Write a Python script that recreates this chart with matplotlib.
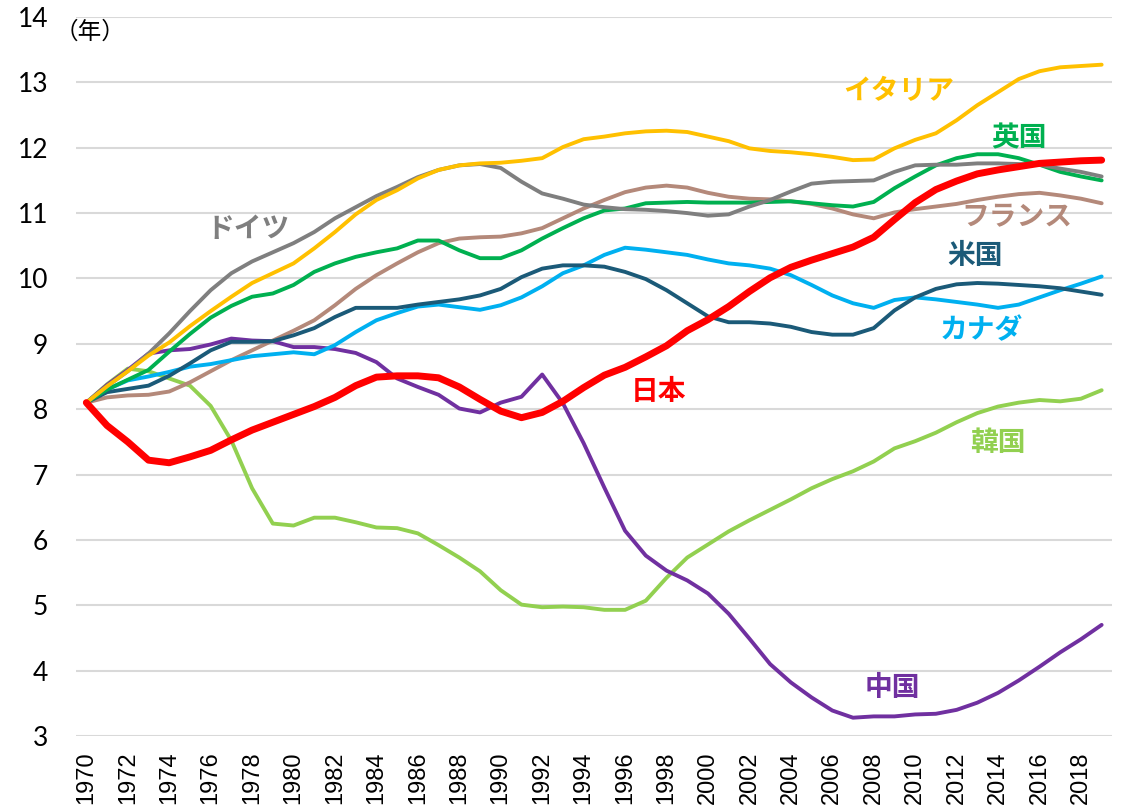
import numpy as np
import matplotlib
matplotlib.use("Agg")
import matplotlib.pyplot as plt

plt.rcParams["font.family"] = ["Noto Sans CJK JP", "DejaVu Sans"]

years = np.arange(1970, 2020)

japan = [8.1, 7.75, 7.5, 7.22, 7.18, 7.27, 7.37, 7.53, 7.68, 7.8,
         7.92, 8.04, 8.18, 8.36, 8.49, 8.51, 8.51, 8.48, 8.34, 8.15,
         7.97, 7.87, 7.95, 8.12, 8.33, 8.52, 8.64, 8.8, 8.97, 9.2,
         9.37, 9.57, 9.8, 10.01, 10.17, 10.28, 10.38, 10.48, 10.63, 10.9,
         11.16, 11.36, 11.49, 11.6, 11.66, 11.71, 11.76, 11.78, 11.8, 11.81]
germany = [8.1, 8.35, 8.58, 8.85, 9.16, 9.5, 9.82, 10.08, 10.26, 10.4,
           10.54, 10.71, 10.92, 11.09, 11.26, 11.4, 11.55, 11.66, 11.73, 11.75,
           11.69, 11.48, 11.3, 11.22, 11.13, 11.09, 11.06, 11.05, 11.03, 11.0,
           10.96, 10.98, 11.1, 11.2, 11.33, 11.45, 11.48, 11.49, 11.5, 11.63,
           11.73, 11.74, 11.74, 11.76, 11.76, 11.75, 11.74, 11.68, 11.63, 11.56]
italy = [8.1, 8.35, 8.58, 8.82, 9.02, 9.27, 9.5, 9.72, 9.93, 10.08,
         10.23, 10.46, 10.71, 10.98, 11.2, 11.35, 11.53, 11.66, 11.73, 11.76,
         11.77, 11.8, 11.84, 12.01, 12.13, 12.17, 12.22, 12.25, 12.26, 12.24,
         12.17, 12.1, 11.99, 11.95, 11.93, 11.9, 11.86, 11.81, 11.82, 11.99,
         12.12, 12.22, 12.42, 12.65, 12.85, 13.05, 13.17, 13.23, 13.25, 13.27]
uk = [8.1, 8.3, 8.45, 8.6, 8.88, 9.15, 9.4, 9.58, 9.72, 9.77,
      9.9, 10.1, 10.23, 10.33, 10.4, 10.46, 10.58, 10.58, 10.43, 10.31,
      10.31, 10.43, 10.61, 10.77, 10.92, 11.04, 11.07, 11.15, 11.16, 11.17,
      11.16, 11.16, 11.16, 11.17, 11.18, 11.15, 11.12, 11.1, 11.17, 11.38,
      11.56, 11.73, 11.84, 11.9, 11.9, 11.84, 11.74, 11.63, 11.56, 11.5]
france = [8.1, 8.18, 8.21, 8.22, 8.27, 8.41, 8.58, 8.75, 8.9, 9.05,
          9.2, 9.36, 9.59, 9.84, 10.05, 10.23, 10.4, 10.54, 10.61, 10.63,
          10.64, 10.69, 10.77, 10.92, 11.07, 11.2, 11.32, 11.39, 11.42, 11.39,
          11.31, 11.25, 11.22, 11.21, 11.18, 11.14, 11.07, 10.98, 10.92, 11.01,
          11.06, 11.1, 11.14, 11.2, 11.25, 11.29, 11.31, 11.27, 11.22, 11.15]
usa = [8.1, 8.26, 8.31, 8.36, 8.51, 8.7, 8.9, 9.03, 9.03, 9.04,
       9.13, 9.24, 9.41, 9.55, 9.55, 9.55, 9.6, 9.64, 9.68, 9.74,
       9.84, 10.02, 10.15, 10.2, 10.2, 10.18, 10.1, 9.99, 9.82, 9.62,
       9.42, 9.33, 9.33, 9.31, 9.26, 9.18, 9.14, 9.14, 9.24, 9.51,
       9.71, 9.84, 9.91, 9.93, 9.92, 9.9, 9.88, 9.85, 9.8, 9.75]
canada = [8.1, 8.3, 8.44, 8.5, 8.57, 8.65, 8.69, 8.75, 8.81, 8.84,
          8.87, 8.84, 8.98, 9.18, 9.36, 9.47, 9.57, 9.6, 9.56, 9.52,
          9.59, 9.71, 9.88, 10.08, 10.2, 10.36, 10.47, 10.44, 10.4, 10.36,
          10.29, 10.23, 10.2, 10.15, 10.05, 9.9, 9.74, 9.62, 9.55, 9.67,
          9.71, 9.68, 9.64, 9.6, 9.55, 9.6, 9.71, 9.82, 9.92, 10.03]
china = [8.1, 8.37, 8.6, 8.85, 8.9, 8.92, 8.99, 9.08, 9.05, 9.04,
         8.95, 8.95, 8.92, 8.86, 8.72, 8.47, 8.34, 8.22, 8.01, 7.95,
         8.1, 8.19, 8.53, 8.09, 7.48, 6.8, 6.14, 5.76, 5.53, 5.38,
         5.18, 4.87, 4.49, 4.1, 3.82, 3.59, 3.39, 3.28, 3.3, 3.3,
         3.33, 3.34, 3.4, 3.51, 3.66, 3.85, 4.06, 4.28, 4.48, 4.7]
korea = [8.1, 8.38, 8.62, 8.58, 8.47, 8.36, 8.05, 7.52, 6.79, 6.25,
         6.22, 6.34, 6.34, 6.27, 6.19, 6.18, 6.1, 5.92, 5.73, 5.52,
         5.23, 5.01, 4.97, 4.98, 4.97, 4.93, 4.93, 5.07, 5.42, 5.73,
         5.93, 6.13, 6.3, 6.46, 6.62, 6.79, 6.93, 7.05, 7.2, 7.4,
         7.51, 7.64, 7.8, 7.94, 8.04, 8.1, 8.14, 8.12, 8.16, 8.29]

# name, values, colour, line width, label position
series = [
    ("韓国", korea, "#92D050", 2.8, (2014.0, 7.48)),
    ("中国", china, "#7030A0", 2.8, (2008.9, 3.74)),
    ("フランス", france, "#B4897A", 2.8, (2014.9, 10.94)),
    ("カナダ", canada, "#00B0F0", 2.8, (2013.2, 9.21)),
    ("米国", usa, "#1B5A78", 2.8, (2012.9, 10.34)),
    ("英国", uk, "#00B050", 2.8, (2015.0, 12.15)),
    ("ドイツ", germany, "#7F7F7F", 2.8, (1977.8, 10.75)),
    ("イタリア", italy, "#FFC000", 2.8, (2009.2, 12.87)),
    ("日本", japan, "#FF0000", 5.0, (1997.6, 8.27)),
]

fig = plt.figure(figsize=(11.27, 8.08), dpi=100)
ax = fig.add_axes([0.0674, 0.0891, 0.9193, 0.8899])

for name, vals, color, lw, (lx, ly) in series:
    ax.plot(years, vals, color=color, lw=lw, solid_joinstyle="round",
            solid_capstyle="round")
    ax.text(lx, ly, name, color=color, fontsize=20, fontweight="bold",
            ha="center", va="center")

ax.set_xlim(1969.5, 2019.5)
ax.set_ylim(3, 14)
ax.set_yticks(range(3, 15))
ax.set_xticks(years[::2])
ax.set_xticklabels([str(y) for y in years[::2]], rotation=90,
                   fontfamily="Liberation Sans", fontsize=17)
for lab in ax.get_yticklabels():
    lab.set_fontfamily("Lato")
    lab.set_fontsize(19)
ax.tick_params(axis="y", length=0, pad=20)
ax.tick_params(axis="x", length=0, pad=11)
ax.grid(axis="y", color="#D9D9D9", lw=1.5)
ax.set_axisbelow(True)
for s in ax.spines.values():
    s.set_visible(False)

fig.text(90 / 1127, 1 - 32 / 808, "（年）", fontsize=17, ha="center", va="center")

fig.savefig("out.png", dpi=100)
